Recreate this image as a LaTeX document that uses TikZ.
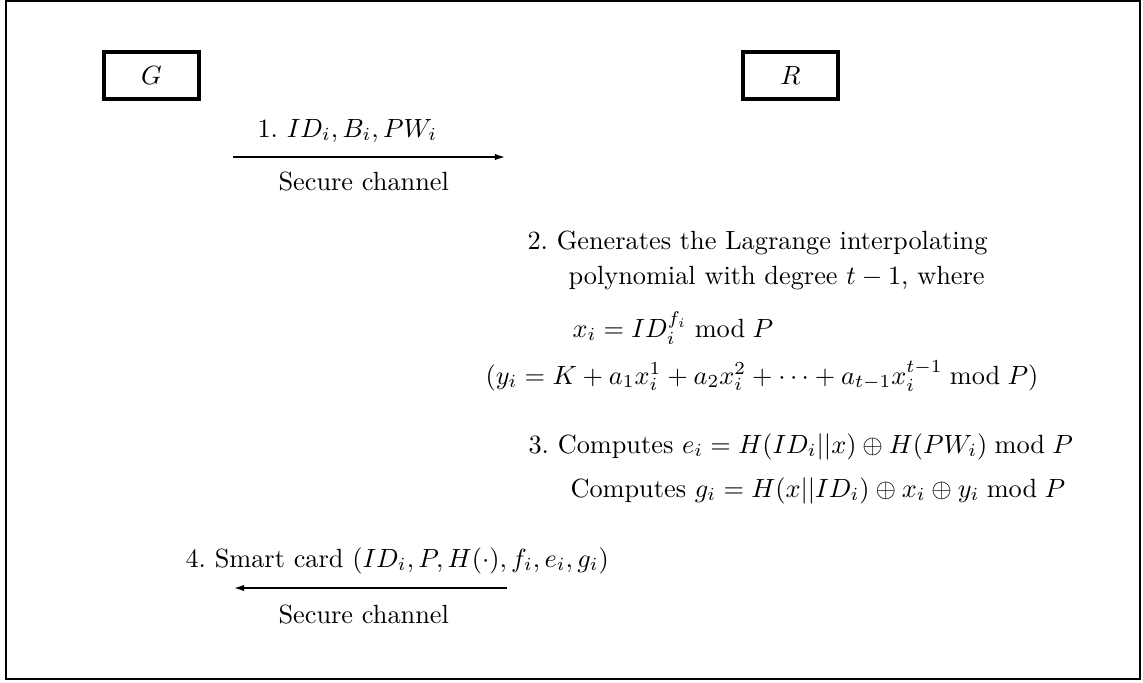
\documentclass[tikz,border=0pt]{standalone}
\usetikzlibrary{arrows.meta}
\begin{document}
\begin{tikzpicture}[x=0.38pt,y=-0.38pt,
  frame/.style={line width=0.8pt},
  entity/.style={draw,line width=1.2pt,minimum width=36.1pt,minimum height=17.9pt,inner sep=0pt},
  txt/.style={anchor=base west,inner sep=0pt},
  msg/.style={line width=0.8pt,-{Latex[length=4.2pt,width=2.4pt]}}]
\useasboundingbox (0,0) rectangle (1143,682);
\draw[frame] (6,1) rectangle (1140,679);
\node[entity] (G) at (151.5,75.5) {$G$};
\node[entity] (R) at (790.5,75.5) {$R$};
\coordinate (a1s) at (233,157);
\coordinate (a1e) at (506,157);
\draw[msg] (a1s) -- (a1e);
\node[txt] (m1) at (257,137) {1.\ $ID_i, B_i, PW_i$};
\node[txt] (s1) at (278,190) {Secure channel};
\node[txt] (t2a) at (527,249) {2.\ Generates the Lagrange interpolating};
\node[txt] (t2b) at (568,284) {polynomial with degree $t-1$, where};
\node[txt] (t2c) at (572,337) {$x_i = ID_i^{f_i} \bmod P$};
\node[txt] (t2d) at (485,384) {$(y_i = K + a_1x_i^1 + a_2x_i^2 + \cdots + a_{t-1}x_i^{t-1} \bmod P)$};
\node[txt] (t3a) at (528,453) {3.\ Computes $e_i = H(ID_i||x) \oplus H(PW_i) \bmod P$};
\node[txt] (t3b) at (570,497) {Computes $g_i = H(x||ID_i) \oplus x_i \oplus y_i \bmod P$};
\node[txt] (t4) at (185,567) {4.\ Smart card $(ID_i, P, H(\cdot), f_i, e_i, g_i)$};
\coordinate (a4s) at (507,588);
\coordinate (a4e) at (233,588);
\draw[msg] (a4s) -- (a4e);
\node[txt] (s4) at (278,623) {Secure channel};
\end{tikzpicture}
\end{document}
